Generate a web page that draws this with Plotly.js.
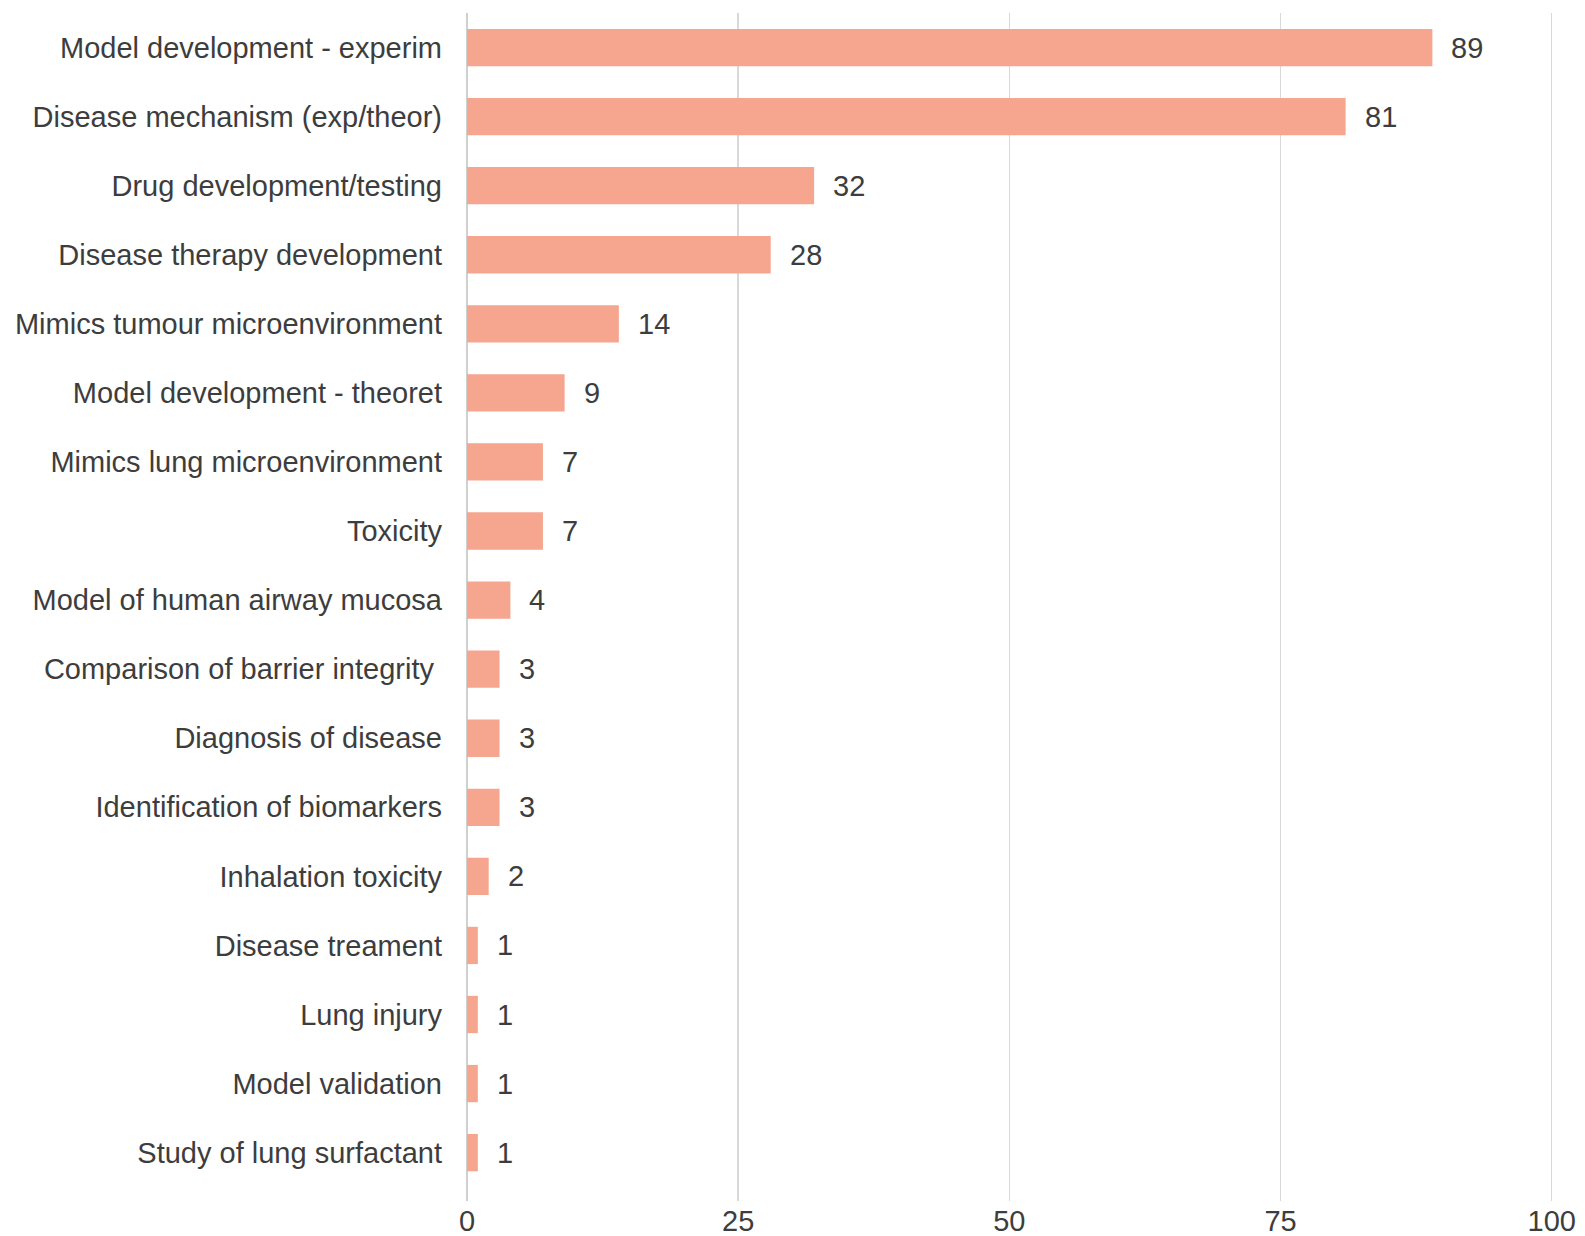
<!DOCTYPE html>
<html>
<head>
<meta charset="utf-8">
<script src="https://cdn.plot.ly/plotly-3.0.1.min.js"></script>
<style>html,body{margin:0;padding:0;background:#fff;}#chart{width:1585px;height:1236px;}</style>
</head>
<body>
<div id="chart"></div>
<script>
const categories = [
  "Model development - experim",
  "Disease mechanism (exp/theor)",
  "Drug development/testing",
  "Disease therapy development",
  "Mimics tumour microenvironment",
  "Model development - theoret",
  "Mimics lung microenvironment",
  "Toxicity",
  "Model of human airway mucosa",
  "Comparison of barrier integrity\u00a0",
  "Diagnosis of disease",
  "Identification of biomarkers",
  "Inhalation toxicity",
  "Disease treament",
  "Lung injury",
  "Model validation",
  "Study of lung surfactant"
];
const counts = [89, 81, 32, 28, 14, 9, 7, 7, 4, 3, 3, 3, 2, 1, 1, 1, 1];
const xTickValues = [0, 25, 50, 75, 100];

const fontFamily = "Liberation Sans, Arial, sans-serif";
const textColor = "#3d3d3d";

const trace = {
  type: "bar",
  orientation: "h",
  x: counts,
  y: categories,
  marker: { color: "#F6A58F" },
  width: 0.54,
  hoverinfo: "x+y"
};

const annotations = counts.map((v, i) => ({
  x: v,
  y: categories[i],
  xref: "x",
  yref: "y",
  text: String(v),
  showarrow: false,
  xanchor: "left",
  yanchor: "middle",
  xshift: 17,
  font: { family: fontFamily, size: 29, color: textColor }
}));

const layout = {
  width: 1585,
  height: 1236,
  margin: { l: 467, r: 32, t: 13, b: 35 },
  paper_bgcolor: "#ffffff",
  plot_bgcolor: "#ffffff",
  showlegend: false,
  font: { family: fontFamily, size: 29, color: textColor },
  xaxis: {
    range: [0, 100.12],
    tickvals: xTickValues,
    ticktext: xTickValues.map(String),
    showgrid: true,
    gridcolor: "#d9d9d9",
    gridwidth: 1.5,
    zeroline: true,
    zerolinecolor: "#d0d0d0",
    zerolinewidth: 2,
    showline: false,
    ticks: "",
    tickfont: { family: fontFamily, size: 29, color: textColor },
    fixedrange: true
  },
  yaxis: {
    type: "category",
    categoryorder: "array",
    categoryarray: categories,
    range: [16.7, -0.5],
    showgrid: false,
    zeroline: false,
    showline: false,
    ticks: "",
    ticklabelstandoff: 24,
    tickfont: { family: fontFamily, size: 29, color: textColor },
    fixedrange: true
  },
  annotations: annotations
};

Plotly.newPlot("chart", [trace], layout, { displayModeBar: false, staticPlot: true });
</script>
</body>
</html>
